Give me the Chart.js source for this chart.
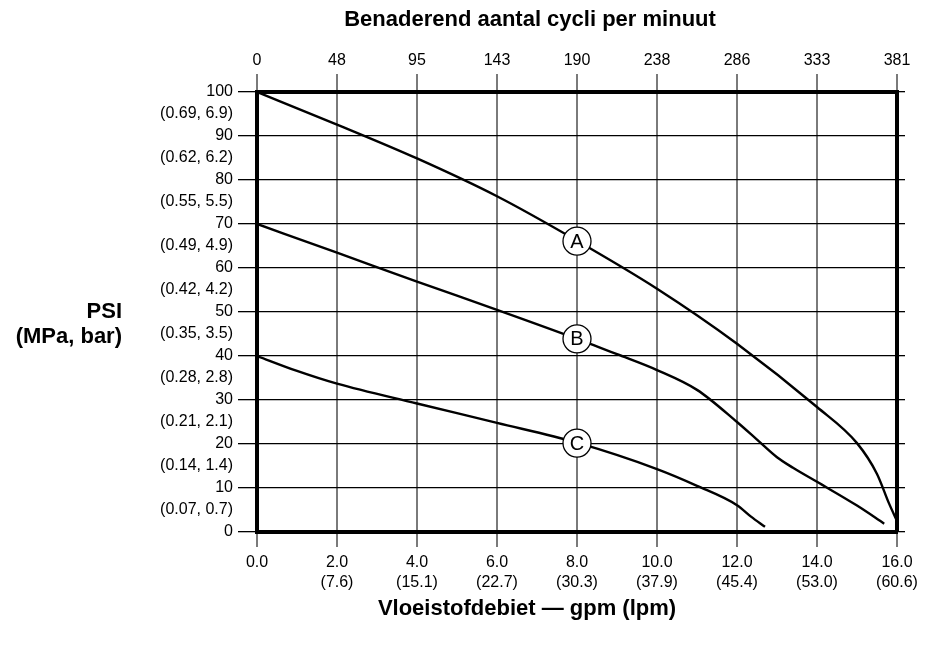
<!DOCTYPE html>
<html>
<head>
<meta charset="utf-8">
<script src="https://cdn.jsdelivr.net/npm/chart.js@4/dist/chart.umd.min.js"></script>
<style>
 html,body{margin:0;padding:0;background:#fff;}
 #wrap{width:934px;height:647px;}
</style>
</head>
<body>
<div id="wrap"><canvas id="chart" width="934" height="647"></canvas></div>
<script>
// flow (gpm) vs pressure (psi) for the three curves
const aFlow=[0,2,4,6,8,10,12,14,15,15.5,15.8,16];
const aPsi=[100,92.6,84.9,76.3,66.2,55.3,42.8,28.4,20.2,13.2,6.5,2.5];
const bFlow=[0,2,4,6,8,9,10,11,12,12.5,13,13.4,14,15,15.68];
const bPsi=[70,63.5,56.9,50.5,43.9,40.4,36.8,32.3,25,21,17,14.6,11.4,6,1.9];
const cFlow=[0,1,2,4,6,8,10,11,12,12.35,12.7];
const cPsi=[40,36.6,33.7,29.2,24.8,20.3,14.3,10.5,6.1,3.5,1.2];

// curve markers
const markText=["A","B","C"];
const markFlow=[8,8,8];
const markPsi=[66.1,43.9,20.2];

// tick labels
const gpmLabels=["0.0","2.0","4.0","6.0","8.0","10.0","12.0","14.0","16.0"];
const lpmLabels=["","(7.6)","(15.1)","(22.7)","(30.3)","(37.9)","(45.4)","(53.0)","(60.6)"];
const cycleLabels=["0","48","95","143","190","238","286","333","381"];
const psiConv=["(0.07, 0.7)","(0.14, 1.4)","(0.21, 2.1)","(0.28, 2.8)","(0.35, 3.5)","(0.42, 4.2)","(0.49, 4.9)","(0.55, 5.5)","(0.62, 6.2)","(0.69, 6.9)"];

const FONT='"Liberation Sans", Arial, sans-serif';
const pts=(xs,ys)=>xs.map((x,i)=>({x:x,y:ys[i]}));
const curve=(xs,ys)=>({type:"line",data:pts(xs,ys),borderColor:"#000",borderWidth:2.4,pointRadius:0,
 fill:false,cubicInterpolationMode:"monotone",order:2});
const isMajor=c=>c.tick && Math.round(c.tick.value)%10===0;

const textPlugin={
 id:"texts",
 afterDatasetsDraw(chart){
  const c=chart.ctx,x=chart.scales.x,y=chart.scales.y;
  c.save();
  c.fillStyle="#000";
  c.font="20px "+FONT;
  c.textAlign="center";c.textBaseline="middle";
  markText.forEach((t,i)=>c.fillText(t,x.getPixelForValue(markFlow[i]),y.getPixelForValue(markPsi[i])+1));
  c.restore();
 },
 afterDraw(chart){
  const c=chart.ctx;
  c.save();
  c.fillStyle="#000";
  c.font="bold 22px "+FONT;
  c.textBaseline="alphabetic";
  c.textAlign="center";
  c.fillText("Benaderend aantal cycli per minuut",530,26);
  c.fillText("Vloeistofdebiet \u2014 gpm (lpm)",527,615);
  c.textAlign="right";
  c.fillText("PSI",122,318);
  c.fillText("(MPa, bar)",122,343);
  c.restore();
 }
};

new Chart(document.getElementById("chart").getContext("2d"),{
 data:{datasets:[
  {type:"scatter",data:pts(markFlow,markPsi),pointRadius:14,pointHoverRadius:14,pointBackgroundColor:"#fff",
   pointBorderColor:"#000",pointBorderWidth:1.3,order:0},
  curve(aFlow,aPsi),curve(bFlow,bPsi),curve(cFlow,cPsi)
 ]},
 options:{
  responsive:false,animation:false,events:[],
  layout:{padding:0},
  plugins:{legend:{display:false},tooltip:{enabled:false}},
  scales:{
   x:{type:"linear",position:"bottom",min:0,max:16,
    afterFit:s=>{s.height=115;},
    ticks:{stepSize:2,maxRotation:0,autoSkip:false,padding:6,color:"#000",font:{family:FONT,size:16,lineHeight:1.25},
     callback:v=>{const i=Math.round(v/2);return lpmLabels[i]?[gpmLabels[i],lpmLabels[i]]:gpmLabels[i];}},
    grid:{color:"#7a7a7a",lineWidth:2,tickLength:15},
    border:{color:"#000",width:4}},
   x2:{type:"linear",position:"top",min:0,max:16,
    afterFit:s=>{s.height=92;},
    ticks:{stepSize:2,maxRotation:0,autoSkip:false,padding:4,color:"#000",font:{family:FONT,size:16},
     callback:v=>cycleLabels[Math.round(v/2)]},
    grid:{drawOnChartArea:false,color:"#7a7a7a",lineWidth:2,tickLength:18},
    border:{color:"#000",width:4}},
   y:{type:"linear",position:"left",min:0,max:100,
    afterFit:s=>{s.width=257;},
    ticks:{stepSize:5,autoSkip:false,padding:5,color:"#000",font:{family:FONT,size:16},
     callback:v=>v%10===0?String(v):psiConv[(v+5)/10-1]},
    grid:{color:c=>isMajor(c)?"#000":"rgba(0,0,0,0)",tickColor:c=>isMajor(c)?"#000":"rgba(0,0,0,0)",lineWidth:1.3,tickLength:19},
    border:{color:"#000",width:4}},
   y2:{type:"linear",position:"right",min:0,max:100,display:true,
    afterFit:s=>{s.width=37;},
    ticks:{stepSize:10,display:false},
    grid:{drawOnChartArea:false,color:"#000",lineWidth:1.3,tickLength:8},
    border:{color:"#000",width:4}}
  }
 },
 plugins:[textPlugin]
});
</script>
</body>
</html>
